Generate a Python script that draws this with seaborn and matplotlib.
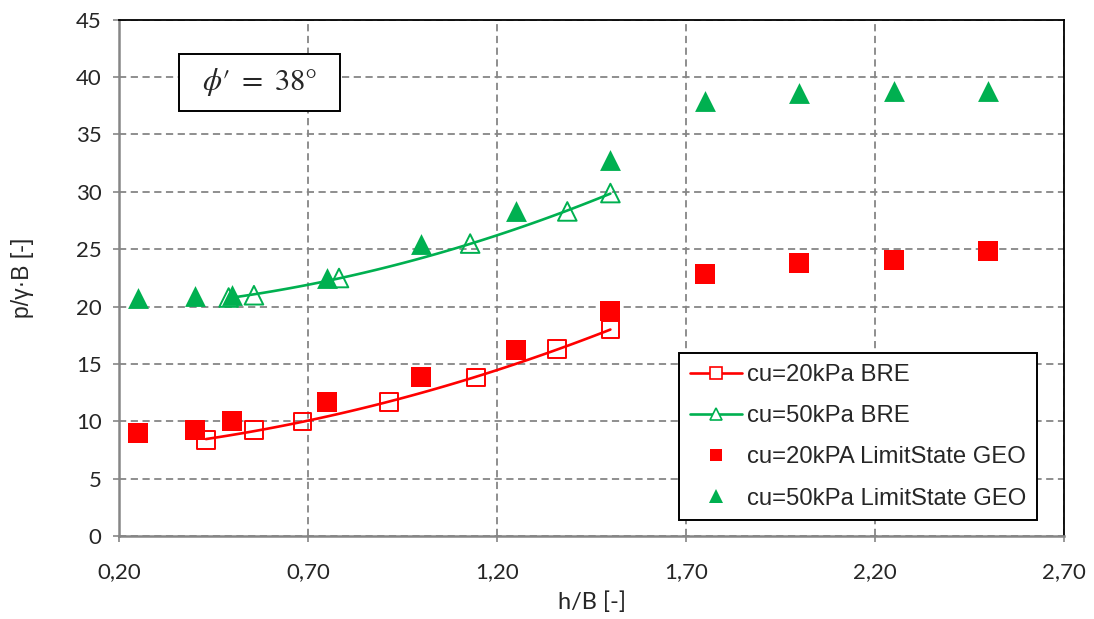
import matplotlib
matplotlib.use("Agg")
import matplotlib.pyplot as plt
import seaborn as sns
import pandas as pd
from matplotlib.lines import Line2D
from matplotlib.patches import Rectangle

# ---- data ----
bre20_x = [0.43, 0.557, 0.686, 0.914, 1.144, 1.358, 1.50]
bre20_y = [8.4, 9.25, 10.0, 11.7, 13.85, 16.3, 18.0]
bre50_x = [0.49, 0.557, 0.782, 1.129, 1.386, 1.50]
bre50_y = [20.8, 21.0, 22.5, 25.5, 28.3, 29.9]
geo_x = [0.25, 0.40, 0.50, 0.75, 1.00, 1.25, 1.50, 1.75, 2.00, 2.25, 2.50]
geo20_y = [9.0, 9.25, 10.0, 11.7, 13.9, 16.2, 19.6, 22.85, 23.8, 24.05, 24.85]
geo50_y = [20.8, 20.95, 21.05, 22.5, 25.5, 28.3, 32.8, 37.95, 38.6, 38.75, 38.75]
x_ticks = [0.20, 0.70, 1.20, 1.70, 2.20, 2.70]
x_tick_labels = ["0,20", "0,70", "1,20", "1,70", "2,20", "2,70"]
y_ticks = [0, 5, 10, 15, 20, 25, 30, 35, 40, 45]
y_tick_labels = [str(v) for v in y_ticks]
series_labels = ["cu=20kPa BRE", "cu=50kPa BRE",
                 "cu=20kPA LimitState GEO", "cu=50kPa LimitState GEO"]
x_label = "h/B [-]"
y_label = "p/γ·B [-]"
annotation = r"$\phi\prime\ =\ 38°$"

RED = "#FF0000"
GREEN = "#00B050"
GRID = "#868686"

sns.set_theme(style="white")
plt.rcParams["font.family"] = ["Liberation Sans", "DejaVu Sans"]
plt.rcParams["mathtext.fontset"] = "stix"

TICKFONT = ["Lato", "DejaVu Sans"]
TICKSIZE = 16

fig = plt.figure(figsize=(10.94, 6.19), dpi=100)
ax = fig.add_axes([119 / 1094, (619 - 536.3) / 619, 945 / 1094, 516.6 / 619])

df20 = pd.DataFrame({"x": bre20_x, "y": bre20_y})
df50 = pd.DataFrame({"x": bre50_x, "y": bre50_y})
dfg = pd.DataFrame({"x": geo_x, "y20": geo20_y, "y50": geo50_y})

# trendlines
sns.regplot(data=df20, x="x", y="y", order=2, ci=None, scatter=False, truncate=True,
            line_kws=dict(color=RED, lw=1.9, zorder=3), ax=ax)
sns.regplot(data=df50, x="x", y="y", order=2, ci=None, scatter=False, truncate=True,
            line_kws=dict(color=GREEN, lw=1.9, zorder=3), ax=ax)

# open markers
sns.scatterplot(data=df20, x="x", y="y", marker="s", s=160, facecolors="none",
                edgecolor=RED, linewidth=1.4, ax=ax, zorder=4)
sns.scatterplot(data=df50, x="x", y="y", marker="^", s=180, facecolors="none",
                edgecolor=GREEN, linewidth=1.4, ax=ax, zorder=4)
# filled markers
sns.scatterplot(data=dfg, x="x", y="y20", marker="s", s=205, color=RED,
                linewidth=0, ax=ax, zorder=5)
sns.scatterplot(data=dfg, x="x", y="y50", marker="^", s=225, color=GREEN,
                linewidth=0, ax=ax, zorder=5)

ax.set_xlim(0.20, 2.70)
ax.set_ylim(0, 45)
ax.set_xticks(x_ticks)
ax.set_xticklabels(x_tick_labels, fontfamily=TICKFONT, fontsize=TICKSIZE)
ax.set_yticks(y_ticks)
ax.set_yticklabels(y_tick_labels, fontfamily=TICKFONT, fontsize=TICKSIZE)
ax.tick_params(axis="both", which="major", direction="out", length=4.5, width=1.2,
               color=GRID, bottom=True, left=True)
ax.tick_params(axis="x", pad=14)
ax.tick_params(axis="y", pad=8)
ax.set_xlabel(x_label, fontfamily=TICKFONT, fontsize=17, labelpad=7)
ax.set_ylabel(y_label, fontsize=16.5, labelpad=30)

ax.grid(True, color=GRID, linestyle=(0, (4, 2.5)), linewidth=1.3)
ax.set_axisbelow(True)
for side in ["left", "bottom"]:
    ax.spines[side].set_color(GRID)
    ax.spines[side].set_linewidth(1.8)
for side in ["top", "right"]:
    ax.spines[side].set_color("black")
    ax.spines[side].set_linewidth(1.3)

# annotation box
ax.add_patch(Rectangle((0.0635, 0.824), 0.1704, 0.109, transform=ax.transAxes,
                       facecolor="white", edgecolor="black", linewidth=1.4, zorder=6))
ax.text(0.1487, 0.8785, annotation, transform=ax.transAxes, ha="center", va="center",
        fontsize=22, zorder=7)

handles = [
    Line2D([], [], color=RED, lw=1.9, marker="s", markersize=8, markerfacecolor="white",
           markeredgecolor=RED, markeredgewidth=1.2),
    Line2D([], [], color=GREEN, lw=1.9, marker="^", markersize=8.5, markerfacecolor="white",
           markeredgecolor=GREEN, markeredgewidth=1.2),
    Line2D([], [], color=RED, lw=0, marker="s", markersize=9, markeredgewidth=0),
    Line2D([], [], color=GREEN, lw=0, marker="^", markersize=10, markeredgewidth=0),
]
leg = ax.legend(handles, series_labels, loc="upper left", bbox_to_anchor=(0.5926, 0.354),
                borderaxespad=0, frameon=True, fancybox=False, fontsize=17.2,
                handlelength=2.2, handletextpad=0.2, labelspacing=0.8,
                borderpad=0.45, framealpha=1)
leg.get_frame().set_edgecolor("black")
leg.get_frame().set_linewidth(1.4)
leg.set_zorder(8)

fig.savefig("out.png", dpi=100)
